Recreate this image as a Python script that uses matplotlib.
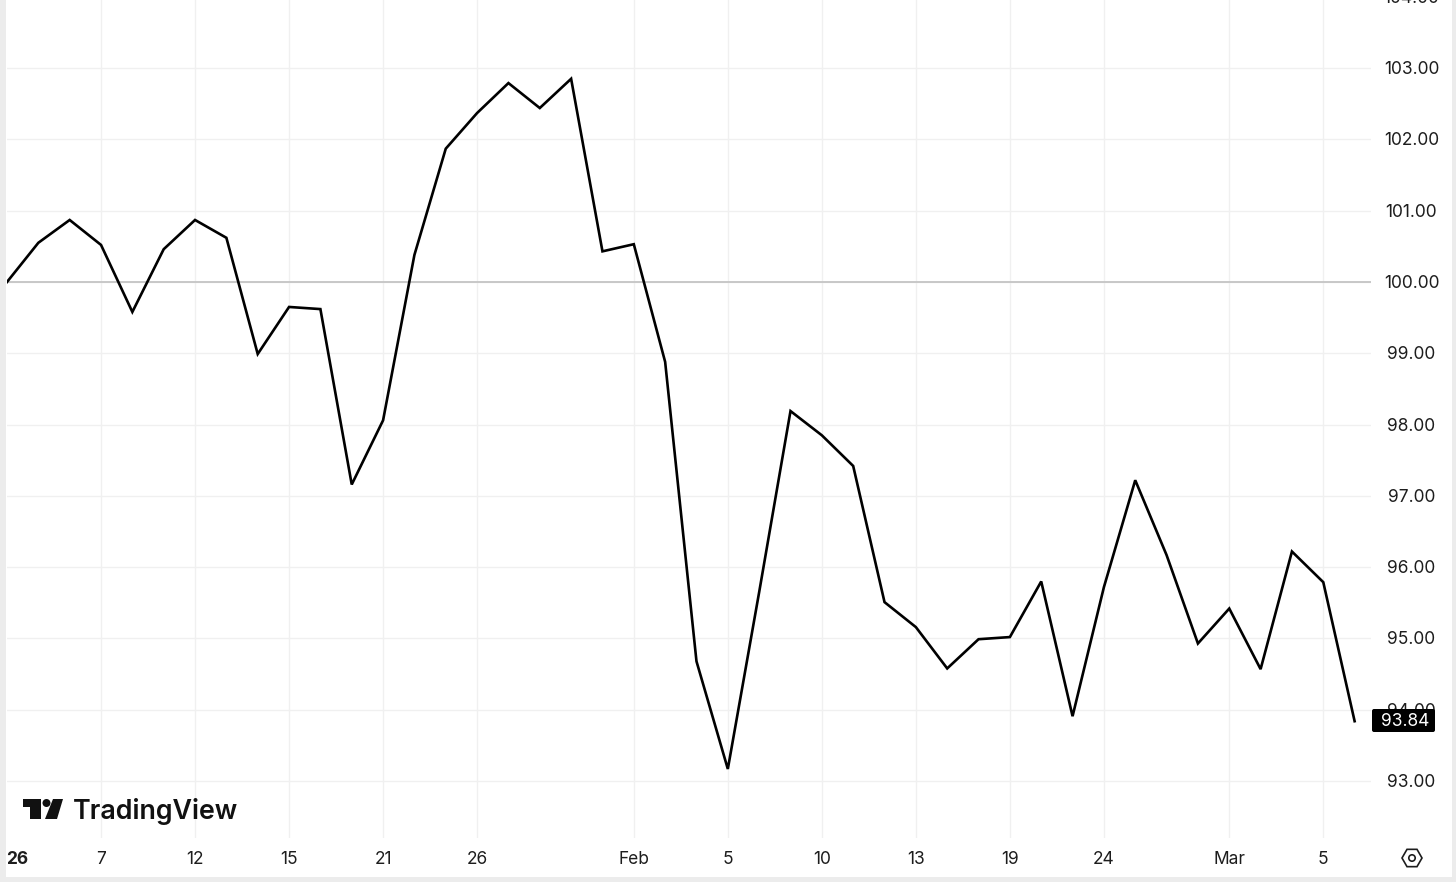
import matplotlib

matplotlib.use("Agg")
import matplotlib.pyplot as plt
from matplotlib.patches import Circle, Polygon, RegularPolygon, FancyBboxPatch, Rectangle

W, H = 1456, 882

values = [
    100.00, 100.55, 100.87, 100.52, 99.58, 100.46, 100.87, 100.62, 98.99, 99.65, 99.62,
    97.16, 98.06, 100.38, 101.87, 102.37, 102.79, 102.44, 102.85, 100.43, 100.53, 98.88,
    94.68, 93.17, 95.65, 98.19, 97.85, 97.42, 95.51, 95.16, 94.58, 94.99, 95.02, 95.80,
    93.91, 95.72, 97.22, 96.17, 94.93, 95.42, 94.57, 96.22, 95.79, 93.84,
]
x_ticks = [3, 6, 9, 12, 15, 20, 23, 26, 29, 32, 35, 39, 42]
x_labels = ["7", "12", "15", "21", "26", "Feb", "5", "10", "13", "19", "24", "Mar", "5"]
y_ticks = [93, 94, 95, 96, 97, 98, 99, 100, 101, 102, 103, 104]
last_value = values[-1]

plt.rcParams["font.family"] = ["Inter", "DejaVu Sans"]

fig = plt.figure(figsize=(W / 100, H / 100), dpi=100)

# plot area in pixels: x 7-1371, y 0-838
ax = fig.add_axes([7 / W, 1 - 838 / H, (1371 - 7) / W, 838 / H])
for s in ax.spines.values():
    s.set_visible(False)
ax.set_xticks(x_ticks)
ax.set_yticks(y_ticks)
# limits after the ticks, set_yticks would stretch them to 104
ax.set_xlim(0, (1371 - 7) / 31.34)
ax.set_ylim(100 - (838 - 282) / 71.3, 100 + 282 / 71.3)
ax.tick_params(length=0, labelbottom=False, labelleft=False)
ax.grid(True, color="#f0f0f0", lw=1)
ax.set_axisbelow(True)

ax.axhline(100, color="#c4c4c4", lw=1.3, zorder=1)
ax.plot(range(len(values)), values, color="black", lw=1.9, solid_joinstyle="miter", zorder=3)

# axis labels
lab = "#1d1d1d"
fs = 12.5
for t, l in zip(x_ticks, x_labels):
    ax.annotate(l, (t, 0), xycoords=("data", "axes fraction"), xytext=(0, -21.5),
                textcoords="offset pixels", ha="center", va="center", fontsize=fs, color=lab,
                annotation_clip=False)
ax.annotate("26", (0, 0), xycoords=("data", "axes fraction"), xytext=(10.5, -21.5),
            textcoords="offset pixels", ha="center", va="center", fontsize=fs, color=lab,
            fontweight="bold", annotation_clip=False)
for v in y_ticks:
    ax.annotate(f"{v:.2f}", (1, v), xycoords=("axes fraction", "data"), xytext=(40.5, -1.5),
                textcoords="offset pixels", ha="center", va="center", fontsize=fs, color=lab,
                annotation_clip=False)

# overlay in figure pixels, y down
ov = fig.add_axes([0, 0, 1, 1], zorder=5)
ov.set_xlim(0, W)
ov.set_ylim(H, 0)
ov.axis("off")
ov.patch.set_alpha(0)

ov.add_patch(Rectangle((0, 0), 6, H, color="#ececec", lw=0))
ov.add_patch(Rectangle((1452, 0), 4, H, color="#ececec", lw=0))
ov.add_patch(Rectangle((0, 877), W, 5, color="#ececec", lw=0))

# last value tag
ov.add_patch(FancyBboxPatch((1372, 709), 63, 23, boxstyle="round,pad=0,rounding_size=2",
                            fc="black", ec="none"))
ov.text(1405.5, 721.5, f"{last_value:.2f}", color="white", ha="center", va="center", fontsize=fs)

# settings icon
ov.add_patch(RegularPolygon((1412, 858), 6, radius=10, orientation=0.5236, fc="none", ec="#1d1d1d", lw=1.2))
ov.add_patch(Circle((1412, 858), 3.2, fc="none", ec="#1d1d1d", lw=1.2))

# logo
logo = "#111111"
ov.add_patch(Polygon([(23, 799), (41, 799), (41, 819), (30, 819), (30, 807), (23, 807)], fc=logo, ec="none"))
ov.add_patch(Circle((46.5, 803), 4, fc=logo, ec="none"))
ov.add_patch(Polygon([(53, 799), (63, 799), (57, 819), (45, 819)], fc=logo, ec="none"))
ov.text(73, 811.5, "TradingView", color=logo, ha="left", va="center", fontsize=19.3, fontweight="semibold")

fig.savefig("out.png", dpi=100, facecolor="white")
